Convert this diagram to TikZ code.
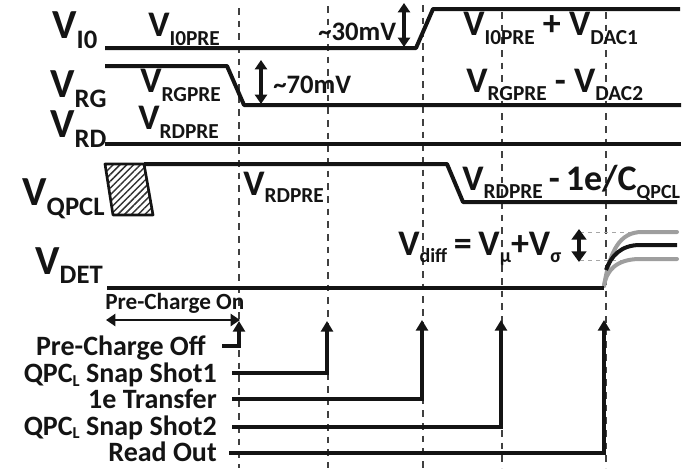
\documentclass[tikz,border=0pt]{standalone}
\usepackage{fontspec}
\setmainfont{Carlito}[BoldFont={Carlito Bold}]
\usetikzlibrary{arrows.meta,patterns.meta}
\newcommand{\SV}[4][-7pt]{{\fontsize{#2}{#2}\selectfont V}\raisebox{#1}{\fontsize{#3}{#3}\selectfont #4}}
\newcommand{\VT}[1]{{\fontsize{27}{27}\selectfont #1}}
\tikzset{
  sig/.style={line width=3pt,line join=round,black!92},
  guide/.style={line width=0.8pt,dash pattern=on 5pt off 4.5pt,black!75},
  tag/.style={inner sep=0pt,font=\bfseries,anchor=base west,black!92},
  ev/.style={inner sep=0pt,font=\bfseries\fontsize{21}{21}\selectfont,anchor=base east,black!92},
  trig/.style={line width=2.4pt,line join=miter,black!92,-{Triangle[length=8pt,width=9pt]}},
  dbl/.style={line width=2.4pt,black!92,{Triangle[length=7pt,width=9pt]}-{Triangle[length=7pt,width=9pt]}},
  spread/.style={line width=3pt,line cap=round,black!38},
  hint/.style={line width=0.5pt,dash pattern=on 3pt off 3pt,black!35}
}
\begin{document}
\begin{tikzpicture}[x=0.75pt,y=-0.75pt]
\useasboundingbox (0,0) rectangle (699,468);
% guides
\foreach \n/\gx/\gy in {ga/239/8,gb/328/6,gc/423/5,gd/502/12,ge/606/12}{
  \coordinate (\n t) at (\gx,\gy);
  \coordinate (\n b) at (\gx,468);
  \draw[guide] (\n t) -- (\n b);
}
% signal traces
\coordinate (i0a) at (105,48); \coordinate (i0b) at (416,48); \coordinate (i0c) at (433,9); \coordinate (i0d) at (680,9);
\draw[sig] (i0a) -- (i0b) -- (i0c) -- (i0d);
\coordinate (rga) at (105,66); \coordinate (rgb) at (227,66); \coordinate (rgc) at (244,105); \coordinate (rgd) at (681,105);
\draw[sig] (rga) -- (rgb) -- (rgc) -- (rgd);
\coordinate (rda) at (105,144); \coordinate (rdb) at (681,144);
\draw[sig] (rda) -- (rdb);
\coordinate (qa) at (144,164); \coordinate (qb) at (447,164); \coordinate (qc) at (463,202); \coordinate (qd) at (677,202);
\draw[sig] (qa) -- (qb) -- (qc) -- (qd);
\draw[line width=2pt,line join=round,black!92,pattern={Lines[angle=45,distance=3.6pt,line width=1.1pt]},pattern color=black!80]
  (105,164) -- (144,164) -- (153,215) -- (113,215) -- cycle;
\coordinate (da) at (107,288); \coordinate (db) at (604,288);
% detector outputs
\draw[hint] (580,232) -- (632,232);
\draw[hint] (580,260) -- (622,260);
\draw[spread] (604,286) .. controls (610,250) and (620,232) .. (642,232) -- (677,232);
\draw[spread] (604,286) .. controls (606,272) and (615,259) .. (640,259) -- (677,259);
\draw[line width=3pt,black!92] (606,270) .. controls (611,256) and (621,245) .. (640,245) -- (677,245);
\draw[sig] (da) -- (db);
% double arrows
\coordinate (a30t) at (404,3); \coordinate (a30b) at (404,47);
\draw[dbl] (a30t) -- (a30b);
\coordinate (a70t) at (261,60); \coordinate (a70b) at (261,104);
\draw[dbl] (a70t) -- (a70b);
\coordinate (asigt) at (579,229); \coordinate (asigb) at (579,262);
\draw[line width=3pt,black!92,{Triangle[length=8pt,width=11pt]}-{Triangle[length=8pt,width=11pt]}] (asigt) -- (asigb);
\coordinate (pca) at (106,320); \coordinate (pcb) at (240,320);
\draw[dbl,line width=1.8pt] (pca) -- (pcb);
% event triggers
\coordinate (e1a) at (222,346); \coordinate (e1b) at (239,346); \coordinate (e1c) at (239,321);
\draw[trig] (e1a) -- (e1b) -- (e1c);
\coordinate (e2a) at (232,373); \coordinate (e2b) at (327,373); \coordinate (e2c) at (327,321);
\draw[trig] (e2a) -- (e2b) -- (e2c);
\coordinate (e3a) at (232,399); \coordinate (e3b) at (422,399); \coordinate (e3c) at (422,320);
\draw[trig] (e3a) -- (e3b) -- (e3c);
\coordinate (e4a) at (232,427); \coordinate (e4b) at (501,427); \coordinate (e4c) at (501,320);
\draw[trig] (e4a) -- (e4b) -- (e4c);
\coordinate (e5a) at (229,453); \coordinate (e5b) at (604,453); \coordinate (e5c) at (604,320);
\draw[trig] (e5a) -- (e5b) -- (e5c);
% signal names
\node[tag] (ni0) at (52,38) {\SV[-8pt]{31}{20}{I0}};
\node[tag] (nrg) at (50,97) {\SV[-8pt]{31}{20}{RG}};
\node[tag] (nrd) at (50,137) {\SV[-8pt]{31}{20}{RD}};
\node[tag] (nq) at (22,205) {\SV[-8pt]{31}{20}{QPCL}};
\node[tag] (ndet) at (35,274) {\SV[-7pt]{31}{20}{DET}};
% value labels
\node[tag] (l1) at (148,36) {\SV{27}{16}{I0PRE}};
\node[tag] (l2) at (140,92) {\SV{27}{16}{RGPRE}};
\node[tag] (l3) at (138,129) {\SV{27}{16}{RDPRE}};
\node[tag] (l4) at (243,195) {\SV[-5.5pt]{27}{16}{RDPRE}};
\node[tag] (l5) at (463,35) {\SV{27}{16}{I0PRE}\VT{\ + }\SV{27}{16}{DAC1}};
\node[tag] (l6) at (466,92) {\SV[-6pt]{27}{16}{RGPRE}\VT{\ - }\SV[-6pt]{27}{16}{DAC2}};
\node[tag] (l7) at (462,190) {\SV[-6pt]{27}{16}{RDPRE}\VT{\hspace{4.5pt}-\hspace{4.5pt}1e/C}\raisebox{-6pt}{\fontsize{15}{15}\selectfont QPCL}};
\node[tag] (l8) at (398,255) {\SV[-5.5pt]{27}{15}{diff}\VT{\hspace{5pt}=\hspace{5pt}}\SV[-5.5pt]{27}{15}{µ}\VT{+}\SV[-5.5pt]{27}{15}{σ}};
\node[tag,font=\bfseries\fontsize{20}{20}\selectfont] (l30) at (318,40) {\textasciitilde30mV};
\node[tag,font=\bfseries\fontsize{20}{20}\selectfont] (l70) at (273,93) {\textasciitilde70mV};
\node[tag,font=\bfseries\fontsize{17.4}{17.4}\selectfont] (lon) at (105,309) {Pre-Charge On};
% event labels
\node[ev] (t1) at (206,355) {Pre-Charge Off};
\node[ev] (t2) at (217,382) {QPC\raisebox{-3pt}{\fontsize{12.5}{12.5}\selectfont L} Snap Shot1};
\node[ev] (t3) at (217,408.5) {1e Transfer};
\node[ev] (t4) at (217,435) {QPC\raisebox{-2.5pt}{\fontsize{12.5}{12.5}\selectfont L} Snap Shot2};
\node[ev] (t5) at (217,461) {Read Out};
\end{tikzpicture}
\end{document}
